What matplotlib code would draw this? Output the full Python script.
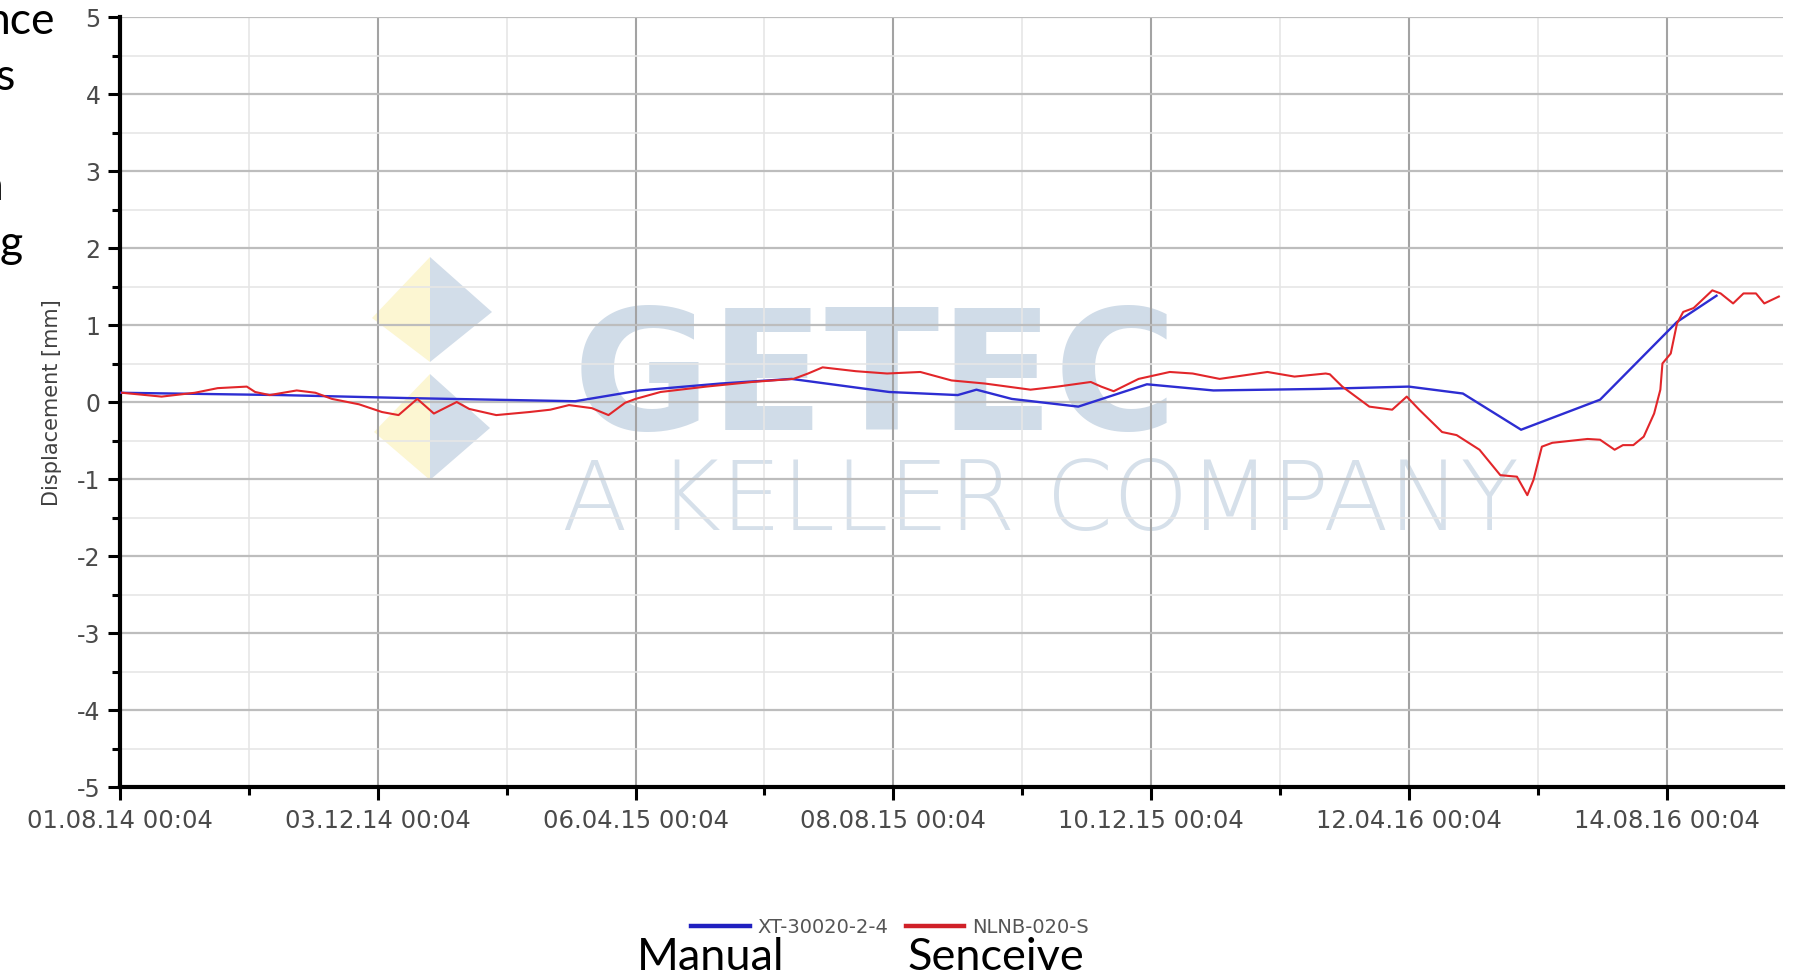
import datetime as dt

import matplotlib
matplotlib.use('Agg')
import matplotlib.pyplot as plt
from matplotlib.lines import Line2D
from matplotlib.patches import Polygon
from matplotlib.ticker import FixedLocator, AutoMinorLocator, MultipleLocator, FuncFormatter
import matplotlib.dates as mdates

plt.rcParams['axes.unicode_minus'] = False

W, H = 1794, 980

# time axis: readings are stored as days after the first tick
START = dt.datetime(2014, 8, 1, 0, 4)
tick_labels = ['01.08.14 00:04', '03.12.14 00:04', '06.04.15 00:04', '08.08.15 00:04',
               '10.12.15 00:04', '12.04.16 00:04', '14.08.16 00:04']
end_days = 800

# manual survey XT-30020-2-4 (blue)
manual_days = [0, 77, 140, 219, 250, 289, 323, 370, 403, 412, 429, 461, 494, 526,
               577, 620, 646, 674, 712, 749, 768]
manual_mm = [0.12, 0.09, 0.05, 0.01, 0.15, 0.24, 0.30, 0.13, 0.09, 0.16, 0.04, -0.06,
             0.23, 0.15, 0.17, 0.20, 0.11, -0.36, 0.03, 1.04, 1.38]

# Senceive sensor NLNB-020-S (red)
sensor_days = [1, 20, 36, 47, 61, 65, 72, 85, 94, 102, 115, 126, 134, 143, 151, 162,
               168, 181, 197, 207, 216, 227, 235, 243, 248, 260, 282, 304, 324, 331,
               338, 354, 369, 385, 400, 416, 438, 451, 467, 472, 478, 490, 505, 516,
               529, 552, 565, 580, 582, 588, 592, 601, 612, 619, 625, 636, 643, 654,
               664, 672, 677, 680, 684, 689, 706, 712, 719, 723, 728, 733, 738, 741,
               742, 746, 749, 752, 757, 766, 770, 776, 781, 787, 791, 798]
sensor_mm = [0.12, 0.07, 0.12, 0.18, 0.20, 0.13, 0.09, 0.15, 0.12, 0.04, -0.03, -0.13,
             -0.17, 0.04, -0.15, 0.00, -0.09, -0.17, -0.13, -0.10, -0.04, -0.08, -0.17,
             -0.01, 0.04, 0.13, 0.20, 0.26, 0.30, 0.37, 0.45, 0.40, 0.37, 0.39, 0.28,
             0.24, 0.16, 0.20, 0.26, 0.20, 0.14, 0.30, 0.39, 0.37, 0.30, 0.39, 0.33,
             0.37, 0.36, 0.20, 0.12, -0.06, -0.10, 0.07, -0.10, -0.39, -0.43, -0.62,
             -0.95, -0.97, -1.21, -1.01, -0.58, -0.53, -0.48, -0.49, -0.62, -0.56,
             -0.56, -0.45, -0.15, 0.16, 0.50, 0.63, 1.02, 1.17, 1.22, 1.45, 1.41,
             1.28, 1.41, 1.41, 1.28, 1.37]

legend_labels = ['XT-30020-2-4', 'NLNB-020-S']
slide_fragments = ['nce', 's', 'n', 'g']

manual_x = [START + dt.timedelta(days=d) for d in manual_days]
sensor_x = [START + dt.timedelta(days=d) for d in sensor_days]
tick_x = [mdates.date2num(dt.datetime.strptime(t, '%d.%m.%y %H:%M')) for t in tick_labels]

fig = plt.figure(figsize=(W / 100, H / 100), dpi=100)
ax = fig.add_axes([120 / W, 1 - 787 / H, (1783 - 120) / W, (787 - 17) / H])

# faint company watermark behind the data
ax.text(875 / W, 1 - 383 / H, 'GETEC', transform=fig.transFigure, ha='center', va='center',
        fontsize=121, fontweight='bold', color='#d0dce8', zorder=1)
ax.text(1040 / W, 1 - 503 / H, 'A KELLER COMPANY', transform=fig.transFigure, ha='center',
        va='center', fontsize=69, fontweight='light', color='#d6e0ea', zorder=1)
logo = [
    ([(430, 257), (372, 318), (430, 362)], '#fcf6d2'),
    ([(430, 257), (492, 312), (430, 362)], '#d2dde9'),
    ([(430, 374), (374, 432), (430, 480)], '#fcf6d2'),
    ([(430, 374), (490, 428), (430, 480)], '#d2dde9'),
]
for pts, col in logo:
    ax.add_patch(Polygon([(x / W, 1 - y / H) for x, y in pts], closed=True,
                         transform=fig.transFigure, facecolor=col, edgecolor='none',
                         zorder=1, clip_on=False))

ax.plot(manual_x, manual_mm, color='#2d2dd2', lw=1.7, zorder=3)
ax.plot(sensor_x, sensor_mm, color='#e2262a', lw=1.5, zorder=4)

ax.set_xlim(START, START + dt.timedelta(days=end_days))
ax.set_ylim(-5, 5)

ax.xaxis.set_major_locator(FixedLocator(tick_x))
ax.xaxis.set_major_formatter(FuncFormatter(lambda v, p: mdates.num2date(v).strftime('%d.%m.%y %H:%M')))
ax.xaxis.set_minor_locator(AutoMinorLocator(2))
ax.yaxis.set_major_locator(MultipleLocator(1))
ax.yaxis.set_minor_locator(MultipleLocator(0.5))

ax.grid(which='major', axis='x', color='#a3a3a3', lw=1.5, zorder=2)
ax.grid(which='major', axis='y', color='#bdbdbd', lw=1.6, zorder=2)
ax.grid(which='minor', color='#e6e6e6', lw=1.2, zorder=2)

for side in ['top', 'right']:
    ax.spines[side].set_visible(False)
for side in ['left', 'bottom']:
    ax.spines[side].set_linewidth(3)
    ax.spines[side].set_color('black')

ax.tick_params(which='major', direction='out', length=9, width=2.2, color='black',
               labelsize=17, labelcolor='#4a4a4a')
ax.tick_params(which='minor', direction='out', length=5.5, width=2.2, color='black')
ax.tick_params(axis='x', which='major', pad=7, labelsize=17.5)
ax.tick_params(axis='y', which='major', pad=5)

fig.text(52 / W, 1 - 403 / H, 'Displacement [mm]', rotation=90, ha='center', va='center',
         fontsize=15, color='#404040')

handles = [Line2D([], [], color='#2020c0', lw=3.2), Line2D([], [], color='#d02028', lw=3.2)]
fig.legend(handles, legend_labels, loc='center', bbox_to_anchor=(890 / W, 1 - 927 / H),
           ncol=2, frameon=False, fontsize=14, handlelength=3.0, handletextpad=0.4,
           columnspacing=0.9, labelcolor='#555555')

# slide text around the pasted chart
fig.text(637 / W, 1 - 970 / H, 'Manual', ha='left', va='baseline', fontsize=32.5, family='Lato')
fig.text(907 / W, 1 - 970 / H, 'Senceive', ha='left', va='baseline', fontsize=32.5, family='Lato')
for frag, (x, y) in zip(slide_fragments, [(55, 34), (15, 90), (4, 200), (23, 257)]):
    fig.text(x / W, 1 - y / H, frag, ha='right', va='baseline', fontsize=32, family='Lato')

fig.savefig('out.png', dpi=100)
